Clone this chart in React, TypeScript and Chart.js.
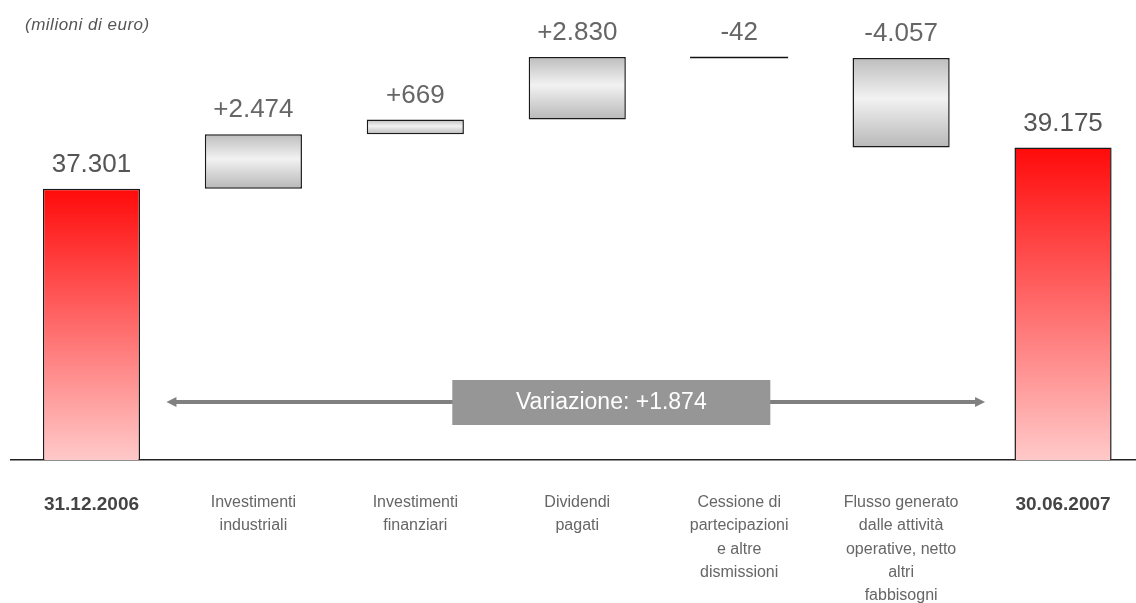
import React, { useEffect, useRef } from "react";
import { Chart, registerables } from "chart.js";

Chart.register(...registerables);

// ---- data ----
const CATEGORIES: (string | string[])[] = [
  "31.12.2006",
  ["Investimenti", "industriali"],
  ["Investimenti", "finanziari"],
  ["Dividendi", "pagati"],
  ["Cessione di", "partecipazioni", "e altre", "dismissioni"],
  ["Flusso generato", "dalle attività", "operative, netto", "altri", "fabbisogni"],
  "30.06.2007",
];
const START_VALUE = 37301;
const END_VALUE = 39175;
const DELTAS = [2474, 669, 2830, -42, -4057];
const VALUE_LABELS = ["37.301", "+2.474", "+669", "+2.830", "-42", "-4.057", "39.175"];
const VARIATION_LABEL = "Variazione: +1.874";
const UNIT_NOTE = "(milioni di euro)";
const AXIS_MIN = 25000;
const AXIS_MAX = 45000;

// build floating bars
const LOWS: number[] = [AXIS_MIN];
const HIGHS: number[] = [START_VALUE];
const BAR_DATA: (number | [number, number])[] = [START_VALUE];
{
  let run = START_VALUE;
  for (const d of DELTAS) {
    const next = run + d;
    BAR_DATA.push([run, next]);
    LOWS.push(Math.min(run, next));
    HIGHS.push(Math.max(run, next));
    run = next;
  }
  BAR_DATA.push(END_VALUE);
  LOWS.push(AXIS_MIN);
  HIGHS.push(END_VALUE);
}
const isTotal = (i: number) => i === 0 || i === CATEGORIES.length - 1;

const FONT = '"Liberation Sans", Arial, sans-serif';

const annotations = {
  id: "waterfallAnnotations",
  afterDatasetsDraw(chart: any) {
    const { ctx, chartArea, scales } = chart;
    const xs = scales.x;
    const meta = chart.getDatasetMeta(0);
    ctx.save();
    // value labels
    ctx.textAlign = "center";
    ctx.textBaseline = "middle";
    ctx.font = `26px ${FONT}`;
    meta.data.forEach((bar: any, i: number) => {
      const top = Math.min(bar.y, bar.base);
      ctx.fillStyle = isTotal(i) ? "#555" : "#666";
      ctx.fillText(VALUE_LABELS[i], bar.x, top - 24);
    });
    // unit note
    ctx.textAlign = "left";
    ctx.font = `italic 17px ${FONT}`;
    try {
      (ctx as any).letterSpacing = "0.5px";
    } catch (e) {}
    ctx.fillStyle = "#555";
    ctx.fillText(UNIT_NOTE, 25, 25);
    try {
      (ctx as any).letterSpacing = "0px";
    } catch (e) {}

    // variation arrow
    const ay = chartArea.bottom - 58;
    const ax1 = xs.getPixelForValue(0) + 75;
    const ax2 = xs.getPixelForValue(CATEGORIES.length - 1) - 78;
    ctx.strokeStyle = "#808080";
    ctx.fillStyle = "#808080";
    ctx.lineWidth = 4;
    ctx.beginPath();
    ctx.moveTo(ax1 + 6, ay);
    ctx.lineTo(ax2 - 6, ay);
    ctx.stroke();
    ctx.beginPath();
    ctx.moveTo(ax1, ay);
    ctx.lineTo(ax1 + 10, ay - 5);
    ctx.lineTo(ax1 + 10, ay + 5);
    ctx.closePath();
    ctx.fill();
    ctx.beginPath();
    ctx.moveTo(ax2, ay);
    ctx.lineTo(ax2 - 10, ay - 5);
    ctx.lineTo(ax2 - 10, ay + 5);
    ctx.closePath();
    ctx.fill();

    // variation box
    const bx = xs.getPixelForValue(2) + 37;
    const bw = 318;
    const by = ay - 22;
    const bh = 45;
    ctx.fillStyle = "#969696";
    ctx.fillRect(bx, by, bw, bh);
    ctx.fillStyle = "#ffffff";
    ctx.textAlign = "center";
    ctx.textBaseline = "middle";
    ctx.font = `23px ${FONT}`;
    ctx.fillText(VARIATION_LABEL, bx + bw / 2, ay + 1);
    ctx.restore();
  },
};

export default function App() {
  const canvasRef = useRef<HTMLCanvasElement | null>(null);

  useEffect(() => {
    if (!canvasRef.current) return;
    const chart = new Chart(canvasRef.current, {
      type: "bar",
      data: {
        labels: CATEGORIES as any,
        datasets: [
          {
            data: BAR_DATA as any,
            backgroundColor: (c: any) => {
              const chart = c.chart;
              const ys = chart.scales?.y;
              if (!ys || c.dataIndex === undefined) return "#cccccc";
              const i = c.dataIndex;
              const yTop = ys.getPixelForValue(HIGHS[i]);
              const yBot = ys.getPixelForValue(LOWS[i]);
              if (!isFinite(yTop) || !isFinite(yBot)) return "#cccccc";
              if (yBot - yTop < 3) return "#111111";
              const g = chart.ctx.createLinearGradient(0, yTop, 0, yBot);
              if (isTotal(i)) {
                g.addColorStop(0, "#ff0a0a");
                g.addColorStop(1, "#ffc9c9");
              } else {
                g.addColorStop(0, "#bdbdbd");
                g.addColorStop(0.45, "#f2f2f2");
                g.addColorStop(1, "#b8b8b8");
              }
              return g;
            },
            borderColor: "#1a1a1a",
            borderWidth: 1.5,
            borderSkipped: false,
            inflateAmount: (c: any) => {
              const i = c.dataIndex;
              if (i === undefined) return 0;
              return HIGHS[i] - LOWS[i] < 150 ? 0.6 : 0;
            },
            categoryPercentage: 1,
            barPercentage: 0.6,
          } as any,
        ],
      },
      options: {
        animation: false,
        responsive: true,
        maintainAspectRatio: false,
        layout: { padding: { left: 10.5, top: 19, right: 0, bottom: 0 } },
        plugins: {
          legend: { display: false },
          tooltip: { enabled: false },
        },
        scales: {
          x: {
            grid: { display: false, drawTicks: false },
            border: { display: true, color: "#222", width: 1.5 },
            afterFit: (scale: any) => {
              scale.height = 143;
            },
            ticks: {
              autoSkip: false,
              maxRotation: 0,
              minRotation: 0,
              padding: 31.5,
              color: (c: any) => (isTotal(c.index) ? "#444" : "#666"),
              font: (c: any) =>
                isTotal(c.index)
                  ? { family: FONT, size: 19, weight: "bold", lineHeight: 1.36 }
                  : { family: FONT, size: 16, weight: "normal", lineHeight: 1.44 },
            },
          },
          y: {
            display: false,
            min: AXIS_MIN,
            max: AXIS_MAX,
          },
        },
      },
      plugins: [annotations],
    });
    return () => chart.destroy();
  }, []);

  return (
    <div
      style={{
        position: "fixed",
        left: 0,
        top: 0,
        width: 1136,
        height: 603,
        overflow: "hidden",
        background: "#fff",
      }}
    >
      <div style={{ position: "relative", width: 1144, height: 603 }}>
        <canvas ref={canvasRef} />
      </div>
    </div>
  );
}
